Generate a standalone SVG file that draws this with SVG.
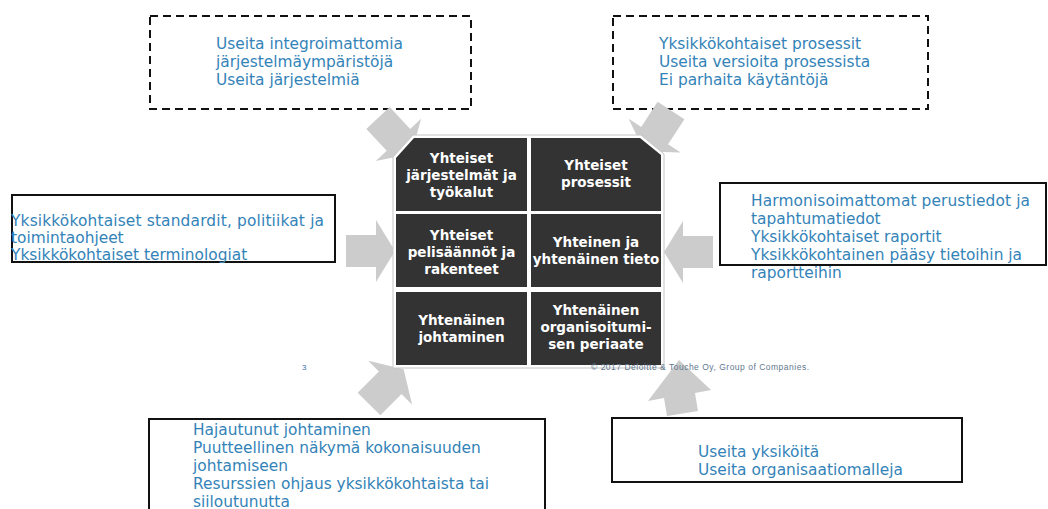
<svg xmlns="http://www.w3.org/2000/svg" width="1048" height="509" viewBox="0 0 1048 509">
<defs>
<style>
.dash{fill:#fff;stroke:#111;stroke-width:2;stroke-dasharray:8 5}
.box{fill:#fff;stroke:#111;stroke-width:2}
.bt{font-family:"DejaVu Sans",Verdana,sans-serif;font-size:15.4px;fill:#3383b8}
.cell{fill:#333333}
.ct{font-family:"DejaVu Sans",Verdana,sans-serif;font-weight:bold;font-size:13.5px;fill:#ffffff;text-anchor:middle}
.arr{fill:#cccccc}
</style>
<path id="ar" d="M0,-16 L30,-16 L30,-31 L49,0 L30,31 L30,16 L0,16 Z"/>
</defs>
<rect width="1048" height="509" fill="#ffffff"/>

<g id="box-systems">
<rect class="dash" x="150" y="16" width="321" height="93"/>
<text class="bt" x="216" y="49">Useita integroimattomia</text>
<text class="bt" x="216" y="67">järjestelmäympäristöjä</text>
<text class="bt" x="216" y="85">Useita järjestelmiä</text>
</g>
<g id="box-processes">
<rect class="dash" x="613" y="16" width="315" height="93"/>
<text class="bt" x="659" y="49">Yksikkökohtaiset prosessit</text>
<text class="bt" x="659" y="67">Useita versioita prosessista</text>
<text class="bt" x="659" y="85">Ei parhaita käytäntöjä</text>
</g>
<g id="box-standards">
<rect class="box" x="12" y="195" width="323" height="67"/>
<text class="bt" x="11" y="226" textLength="313">Yksikkökohtaiset standardit, politiikat ja</text>
<text class="bt" x="11" y="243">toimintaohjeet</text>
<text class="bt" x="11" y="260">Yksikkökohtaiset terminologiat</text>
</g>
<g id="box-data">
<rect class="box" x="720" y="183" width="326" height="82"/>
<text class="bt" x="751" y="206" textLength="279">Harmonisoimattomat perustiedot ja</text>
<text class="bt" x="751" y="224">tapahtumatiedot</text>
<text class="bt" x="751" y="242">Yksikkökohtaiset raportit</text>
<text class="bt" x="751" y="260">Yksikkökohtainen pääsy tietoihin ja</text>
<text class="bt" x="751" y="278">raportteihin</text>
</g>
<g id="box-management">
<rect class="box" x="149" y="419" width="396" height="100"/>
<text class="bt" x="193" y="435">Hajautunut johtaminen</text>
<text class="bt" x="193" y="453">Puutteellinen  näkymä kokonaisuuden</text>
<text class="bt" x="193" y="471">johtamiseen</text>
<text class="bt" x="193" y="489">Resurssien ohjaus yksikkökohtaista tai</text>
<text class="bt" x="193" y="507">siiloutunutta</text>
</g>
<g id="box-organisation">
<rect class="box" x="612" y="418" width="350" height="64"/>
<text class="bt" x="698" y="457">Useita yksiköitä</text>
<text class="bt" x="698" y="475">Useita organisaatiomalleja</text>
</g>

<g id="connectors">
<use href="#ar" class="arr" transform="translate(378,118) rotate(47)"/>
<use href="#ar" class="arr" transform="translate(671,110.5) rotate(123)"/>
<use href="#ar" class="arr" transform="translate(346,251)"/>
<use href="#ar" class="arr" transform="translate(713,252) rotate(180)"/>
<use href="#ar" class="arr" transform="translate(369,404) rotate(-45)"/>
<polygon class="arr" points="679,360 711,390 695,393 698,411 667,416 664,398 648,401"/>
</g>

<g id="grid">
<polygon points="413,135 641,135 664,154 664,368 393,368 393,157" fill="#ffffff" stroke="#c4c4c4" stroke-width="1"/>
<g id="cell-systems">
<polygon class="cell" points="414,138 527,138 527,211 396,211 396,158"/>
<text class="ct" x="461.5" y="163">Yhteiset</text>
<text class="ct" x="461.5" y="180">järjestelmät ja</text>
<text class="ct" x="461.5" y="197">työkalut</text>
</g>
<g id="cell-processes">
<polygon class="cell" points="531,138 640,138 661,155 661,211 531,211"/>
<text class="ct" x="596" y="170">Yhteiset</text>
<text class="ct" x="596" y="187">prosessit</text>
</g>
<g id="cell-rules">
<rect class="cell" x="396" y="214" width="131" height="73"/>
<text class="ct" x="461.5" y="240">Yhteiset</text>
<text class="ct" x="461.5" y="257">pelisäännöt ja</text>
<text class="ct" x="461.5" y="274">rakenteet</text>
</g>
<g id="cell-data">
<rect class="cell" x="531" y="214" width="130" height="73"/>
<text class="ct" x="596" y="247">Yhteinen ja</text>
<text class="ct" x="596" y="264">yhtenäinen tieto</text>
</g>
<g id="cell-management">
<rect class="cell" x="396" y="292" width="131" height="73"/>
<text class="ct" x="461.5" y="325">Yhtenäinen</text>
<text class="ct" x="461.5" y="342">johtaminen</text>
</g>
<g id="cell-organisation">
<rect class="cell" x="531" y="292" width="130" height="73"/>
<text class="ct" x="596" y="315">Yhtenäinen</text>
<text class="ct" x="596" y="332">organisoitumi-</text>
<text class="ct" x="596" y="349">sen periaate</text>
</g>
</g>

<g id="footer">
<text x="302" y="370" font-family="Liberation Sans, Arial, sans-serif" font-size="8" fill="#3b6fb0">3</text>
<text x="591" y="370" font-family="Liberation Sans, Arial, sans-serif" font-size="8.5" fill="#62788f" textLength="218">© 2017 Deloitte &amp; Touche Oy, Group of Companies.</text>
</g>
</svg>
